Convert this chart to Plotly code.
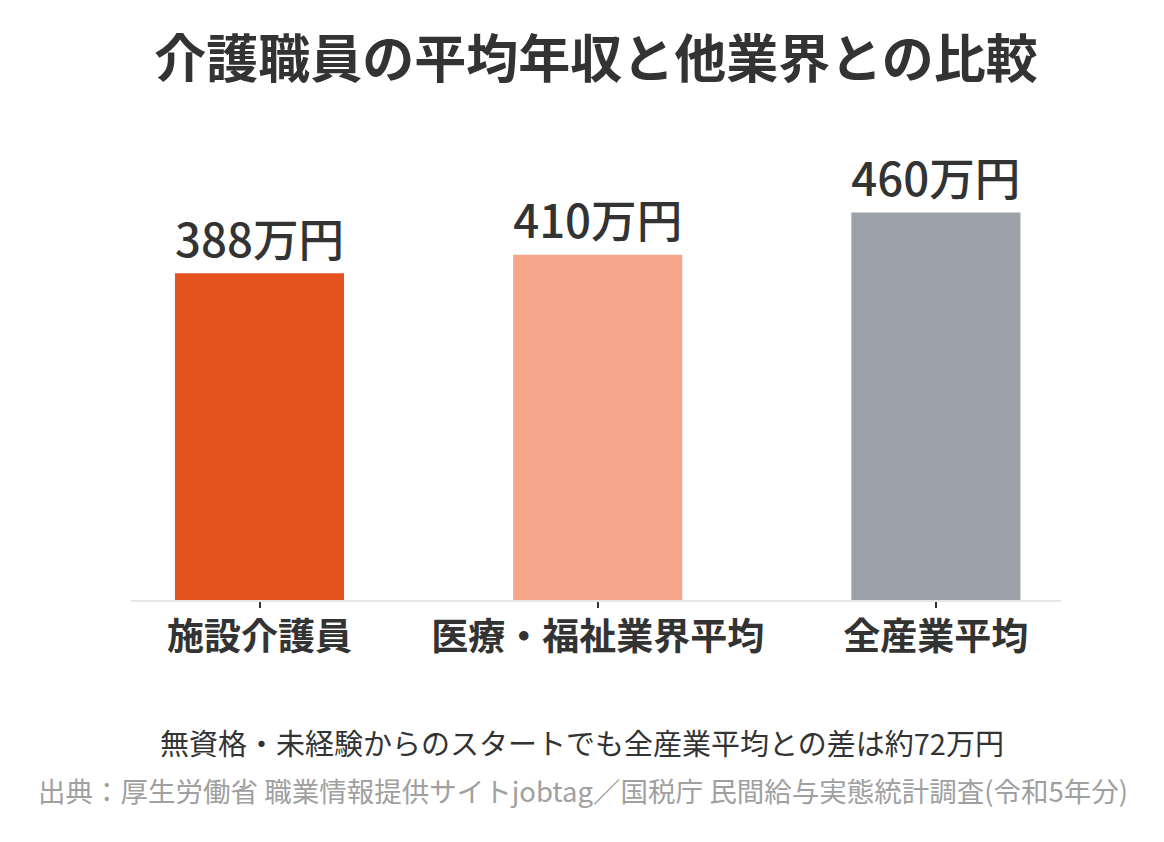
import plotly.graph_objects as go

categories = ["施設介護員", "医療・福祉業界平均", "全産業平均"]
values = [388, 410, 460]
labels = ["388万円", "410万円", "460万円"]
colors = ["#E4521F", "#F5A68A", "#9CA0A8"]

title_text = "介護職員の平均年収と他業界との比較"
note_text = "無資格・未経験からのスタートでも全産業平均との差は約72万円"
source_text = "出典：厚生労働省 職業情報提供サイトjobtag／国税庁 民間給与実態統計調査(令和5年分)"

FONT = "Noto Sans CJK JP"

fig = go.Figure(
    go.Bar(
        x=categories,
        y=values,
        marker=dict(color=colors, line=dict(width=0)),
        width=0.5,
        text=labels,
        textposition="outside",
        textfont=dict(family=FONT, size=48, color="#333333", weight=500),
        cliponaxis=False,
        hoverinfo="skip",
    )
)

fig.update_layout(
    width=1164,
    height=842,
    paper_bgcolor="white",
    plot_bgcolor="white",
    margin=dict(l=131, r=103, t=162, b=242),
    showlegend=False,
    font=dict(family=FONT, color="#333333"),
    title=dict(
        text=title_text,
        x=(131 + 1061) / 2 / 1164,
        xanchor="center",
        y=1 - 60 / 842,
        yanchor="middle",
        font=dict(family=FONT, size=52, color="#333333", weight="bold"),
    ),
    xaxis=dict(
        range=[-0.38, 2.37],
        showline=True,
        linecolor="#E6E6E6",
        linewidth=2,
        ticks="outside",
        ticklen=6,
        tickwidth=2,
        tickcolor="#333333",
        tickfont=dict(family=FONT, size=37, color="#333333", weight="bold"),
        ticklabelstandoff=-2,
        showgrid=False,
        zeroline=False,
        fixedrange=True,
    ),
    yaxis=dict(
        range=[0, 520],
        visible=False,
        showgrid=False,
        zeroline=False,
        fixedrange=True,
    ),
    annotations=[
        dict(
            text=note_text,
            xref="paper", yref="paper",
            x=(582 - 131) / 930, y=-(742 - 600) / 438,
            xanchor="center", yanchor="middle",
            showarrow=False,
            font=dict(family=FONT, size=29, color="#333333"),
        ),
        dict(
            text=source_text,
            xref="paper", yref="paper",
            x=(583 - 131) / 930, y=-(790 - 600) / 438,
            xanchor="center", yanchor="middle",
            showarrow=False,
            font=dict(family=FONT, size=27.5, color="#A0A0A0"),
        ),
    ],
)

fig.write_html("out.html")
